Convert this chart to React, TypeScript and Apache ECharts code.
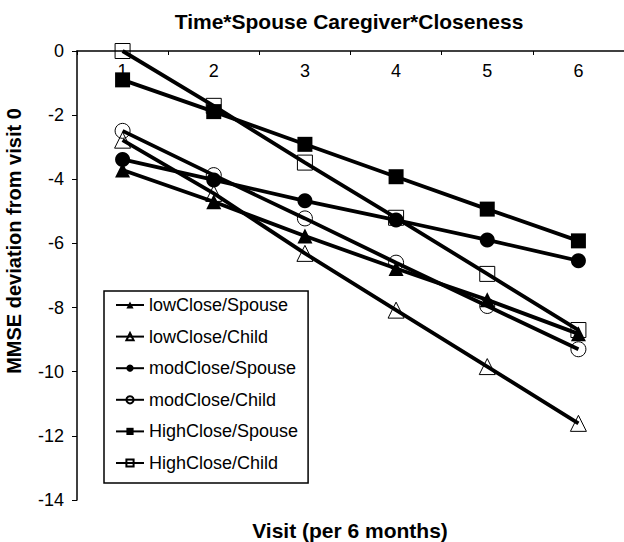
import React, { useEffect, useRef } from "react";
import * as echarts from "echarts";

const visits = ["1", "2", "3", "4", "5", "6"];
const lowCloseSpouse = [-3.71, -4.7, -5.77, -6.78, -7.76, -8.82];
const lowCloseChild = [-2.78, -4.44, -6.31, -8.08, -9.84, -11.61];
const modCloseSpouse = [-3.38, -4.02, -4.67, -5.27, -5.89, -6.54];
const modCloseChild = [-2.49, -3.87, -5.22, -6.6, -7.95, -9.3];
const highCloseSpouse = [-0.9, -1.89, -2.91, -3.92, -4.93, -5.92];
const highCloseChild = [0, -1.71, -3.48, -5.2, -6.95, -8.7];

const yMin = -14;
const yMax = 0;
const yInterval = 2;

const titleText = "Time*Spouse Caregiver*Closeness";
const xName = "Visit (per 6 months)";
const yName = "MMSE deviation from visit 0";

const FONT = "'Liberation Sans', Arial, Helvetica, sans-serif";

type SeriesDef = { name: string; data: number[]; symbol: string; filled: boolean; size: number };

const seriesDefs: SeriesDef[] = [
  { name: "lowClose/Spouse", data: lowCloseSpouse, symbol: "triangle", filled: true, size: 15 },
  { name: "lowClose/Child", data: lowCloseChild, symbol: "triangle", filled: false, size: 16 },
  { name: "modClose/Spouse", data: modCloseSpouse, symbol: "circle", filled: true, size: 15 },
  { name: "modClose/Child", data: modCloseChild, symbol: "circle", filled: false, size: 15 },
  { name: "HighClose/Spouse", data: highCloseSpouse, symbol: "rect", filled: true, size: 15 },
  { name: "HighClose/Child", data: highCloseChild, symbol: "rect", filled: false, size: 15 },
];

export default function App() {
  const ref = useRef<HTMLDivElement>(null);

  useEffect(() => {
    if (!ref.current) return;
    const chart = echarts.init(ref.current, null, { renderer: "svg" });
    chart.setOption({
      animation: false,
      backgroundColor: "#fff",
      textStyle: { fontFamily: FONT, color: "#000" },
      graphic: [
        {
          type: "text",
          x: 349,
          y: 21,
          style: {
            text: titleText,
            fontSize: 21,
            fontWeight: "bold",
            fontFamily: FONT,
            fill: "#000",
            textAlign: "center",
            textVerticalAlign: "middle",
          },
        },
        {
          type: "text",
          x: 350,
          y: 530,
          style: {
            text: xName,
            fontSize: 21,
            fontWeight: "bold",
            fontFamily: FONT,
            fill: "#000",
            textAlign: "center",
            textVerticalAlign: "middle",
          },
        },
        {
          type: "text",
          x: 14,
          y: 241,
          rotation: Math.PI / 2,
          style: {
            text: yName,
            fontSize: 20,
            fontWeight: "bold",
            fontFamily: FONT,
            fill: "#000",
            textAlign: "center",
            textVerticalAlign: "middle",
          },
        },
      ],
      legend: {
        orient: "vertical",
        left: 104,
        top: 291,
        itemWidth: 28,
        itemHeight: 9,
        itemGap: 11.6,
        padding: [4, 10, 10, 11],
        borderColor: "#000",
        borderWidth: 1.5,
        backgroundColor: "#fff",
        textStyle: { fontSize: 18, color: "#000", lineHeight: 20, fontFamily: FONT },
        data: seriesDefs.map((s) => s.name),
      },
      grid: { left: 77, top: 51, width: 549, height: 449, containLabel: false },
      xAxis: {
        type: "category",
        position: "top",
        data: visits,
        boundaryGap: true,
        axisLine: { show: true, lineStyle: { color: "#000", width: 1.5 } },
        axisTick: { show: true, inside: true, length: 4, lineStyle: { color: "#000", width: 1 } },
        axisLabel: { inside: true, margin: 11, fontSize: 18, color: "#000", fontFamily: FONT },
        splitLine: { show: false },
      },
      yAxis: {
        type: "value",
        min: yMin,
        max: yMax,
        interval: yInterval,
        axisLine: { show: true, lineStyle: { color: "#000", width: 1.5 } },
        axisTick: { show: true, inside: false, length: 5, lineStyle: { color: "#000", width: 1 } },
        axisLabel: { margin: 13, fontSize: 18, color: "#000", fontFamily: FONT },
        splitLine: { show: false },
      },
      series: seriesDefs.map((s) => ({
        name: s.name,
        type: "line",
        data: s.data,
        symbol: s.symbol,
        symbolSize: s.size,
        showAllSymbol: true,
        lineStyle: { color: "#000", width: 3.8 },
        itemStyle: s.filled
          ? { color: "#000", borderColor: "#000", borderWidth: 0 }
          : { color: "rgba(0,0,0,0)", borderColor: "#000", borderWidth: 1 },
        emphasis: { disabled: true },
        z: 2,
      })),
    });
    return () => chart.dispose();
  }, []);

  return (
    <div
      ref={ref}
      style={{ position: "fixed", left: 0, top: 0, width: 624, height: 542, background: "#fff" }}
    />
  );
}
